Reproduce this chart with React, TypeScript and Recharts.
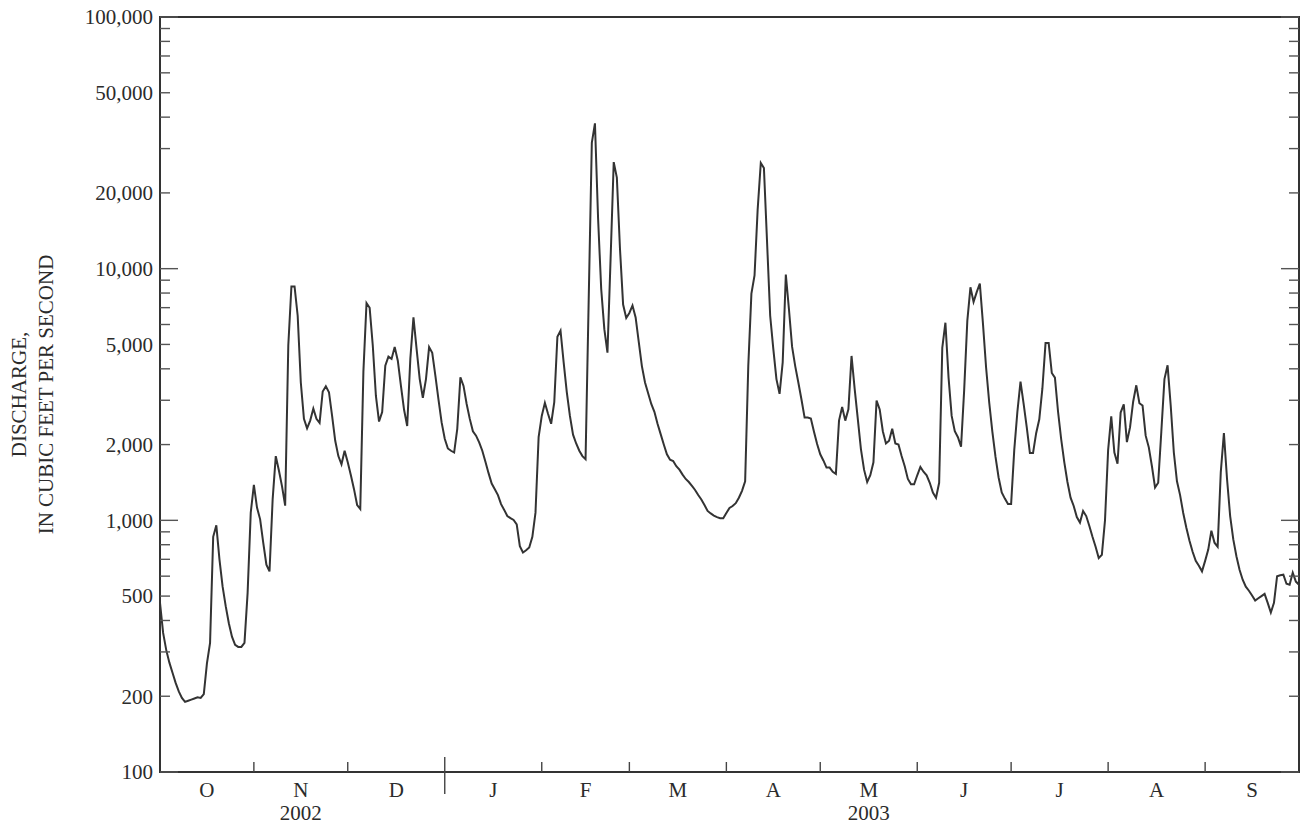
import React from 'react';
import { LineChart, Line, XAxis, YAxis, ReferenceArea } from 'recharts';

// Daily mean discharge, water year Oct 2002 - Sep 2003 (cubic feet per second)
const oct = [470, 357, 305, 272, 248, 226, 209, 197, 190, 192, 194, 196, 198, 197, 204, 270, 326, 860, 955, 700, 546, 456, 390, 345, 320, 314, 314, 326, 515, 1073, 1382];
const nov = [1124, 1009, 814, 666, 627, 1212, 1800, 1577, 1365, 1144, 4950, 8500, 8500, 6500, 3530, 2530, 2320, 2490, 2780, 2530, 2440, 3250, 3410, 3230, 2600, 2070, 1800, 1670, 1890, 1700];
const dec = [1510, 1330, 1150, 1110, 3890, 7300, 6990, 4950, 3120, 2470, 2690, 4120, 4470, 4380, 4880, 4310, 3420, 2750, 2370, 4380, 6400, 4800, 3640, 3070, 3640, 4880, 4630, 3760, 3020, 2450, 2110];
const jan = [1930, 1890, 1860, 2310, 3700, 3420, 2900, 2530, 2260, 2170, 2040, 1890, 1710, 1540, 1400, 1330, 1260, 1160, 1100, 1040, 1020, 1003, 964, 790, 745, 760, 780, 860, 1073, 2140, 2600];
const feb = [2930, 2650, 2420, 2950, 5360, 5670, 4240, 3230, 2600, 2190, 2020, 1890, 1800, 1750, 7500, 31600, 37800, 15850, 8300, 5750, 4640, 10960, 26500, 23000, 12000, 7200, 6370, 6670];
const mar = [7140, 6400, 5120, 4100, 3530, 3200, 2900, 2700, 2420, 2200, 2000, 1830, 1740, 1720, 1640, 1590, 1520, 1460, 1420, 1370, 1320, 1260, 1210, 1150, 1090, 1065, 1045, 1030, 1020, 1020, 1070];
const apr = [1120, 1140, 1170, 1230, 1310, 1430, 4100, 7960, 9400, 17200, 26300, 25100, 12800, 6500, 4800, 3640, 3180, 4240, 9470, 6900, 4900, 4100, 3530, 3020, 2560, 2560, 2540, 2250, 2010, 1830];
const may = [1730, 1620, 1620, 1560, 1530, 2490, 2820, 2490, 2760, 4500, 3330, 2530, 1920, 1590, 1420, 1510, 1700, 2990, 2760, 2260, 2020, 2070, 2310, 2020, 2000, 1800, 1640, 1460, 1390, 1390, 1510];
const jun = [1630, 1560, 1510, 1410, 1290, 1230, 1410, 4850, 6100, 3700, 2600, 2260, 2140, 1960, 3300, 6200, 8430, 7380, 8070, 8730, 6050, 4050, 2940, 2250, 1790, 1480, 1290, 1220, 1160, 1160];
const jul = [1900, 2700, 3560, 2900, 2340, 1850, 1850, 2220, 2520, 3350, 5060, 5060, 3850, 3690, 2700, 2100, 1700, 1420, 1230, 1140, 1030, 980, 1090, 1040, 950, 860, 785, 708, 730, 1000, 1900];
const aug = [2590, 1860, 1680, 2680, 2890, 2045, 2340, 2960, 3440, 2920, 2860, 2170, 1950, 1640, 1350, 1410, 2250, 3640, 4130, 2860, 1860, 1430, 1260, 1070, 935, 830, 750, 690, 660, 627, 690];
const sep = [765, 910, 815, 785, 1550, 2220, 1460, 1040, 840, 720, 636, 581, 545, 525, 503, 480, 490, 500, 510, 470, 430, 470, 600, 605, 608, 560, 555, 620, 571, 555];

const monthLabels = ['O', 'N', 'D', 'J', 'F', 'M', 'A', 'M', 'J', 'J', 'A', 'S'];
const yearLabels: Record<number, string> = { 1: '2002', 7: '2003' };
const yTitle = ['DISCHARGE,', 'IN CUBIC FEET PER SECOND'];

const yTicks = [
  100, 200, 300, 400, 500, 600, 700, 800, 900,
  1000, 2000, 3000, 4000, 5000, 6000, 7000, 8000, 9000,
  10000, 20000, 30000, 40000, 50000, 60000, 70000, 80000, 90000,
  100000,
];
const yTickLabels: Record<number, string> = {
  100: '100', 200: '200', 500: '500',
  1000: '1,000', 2000: '2,000', 5000: '5,000',
  10000: '10,000', 20000: '20,000', 50000: '50,000',
  100000: '100,000',
};

const months = [oct, nov, dec, jan, feb, mar, apr, may, jun, jul, aug, sep];
const data = months.flat().map((q, day) => ({ day, q }));
const lastDay = data.length - 1;

// month boundary ticks sit on the last day of the previous month
const starts: number[] = [];
months.reduce((acc, m) => { starts.push(acc); return acc + m.length; }, 0);
const boundaries = starts.slice(1).map((s) => s - 1);
const edges = [0, ...boundaries, lastDay];
const mids = monthLabels.map((_, i) => (edges[i] + edges[i + 1]) / 2);

const W = 1301;
const H = 825;
const margin = { top: 17, right: 2, bottom: 0, left: 0 };
const AXIS_H = 53;
const plotRight = W - margin.right;
const plotMidY = margin.top + (H - margin.top - AXIS_H) / 2;

const font = "'Liberation Serif', 'DejaVu Serif', 'Times New Roman', serif";
const ink = '#2b2b2b';
const textStyle = { fontFamily: font, fontSize: 21, fill: ink };

const FlowTick = ({ x, y, payload }: any) => {
  const v = payload.value;
  const decade = v === 100 || v === 1000 || v === 10000 || v === 100000;
  const len = decade ? 18 : 10;
  const label = yTickLabels[v];
  return (
    <g>
      <line x1={x} x2={x + len} y1={y} y2={y} stroke="#555" strokeWidth={1.4} />
      <line x1={plotRight - len} x2={plotRight} y1={y} y2={y} stroke="#555" strokeWidth={1.4} />
      {label && (
        <text x={x - 7} y={y} dy="0.35em" textAnchor="end" style={textStyle}>
          {label}
        </text>
      )}
    </g>
  );
};

const MonthTick = ({ x, y, payload }: any) => {
  const v = payload.value;
  const b = boundaries.indexOf(v);
  if (b >= 0) {
    const newYear = b === 2;
    return (
      <line x1={x} x2={x} y1={y - (newYear ? 15 : 10)} y2={y + (newYear ? 22 : 0)} stroke="#444" strokeWidth={1.4} />
    );
  }
  const m = mids.indexOf(v);
  if (m < 0) return null;
  return (
    <g>
      <text x={x} y={y + 25} textAnchor="middle" style={textStyle}>{monthLabels[m]}</text>
      {yearLabels[m] && (
        <text x={x} y={y + 48} textAnchor="middle" style={textStyle}>{yearLabels[m]}</text>
      )}
    </g>
  );
};

export default function App() {
  return (
    <div style={{ position: 'absolute', top: 0, left: 0, width: W, height: H, background: '#fff' }}>
      <LineChart width={W} height={H} data={data} margin={margin}>
        <XAxis
          type="number"
          dataKey="day"
          domain={[0, lastDay]}
          ticks={[...boundaries, ...mids]}
          interval={0}
          axisLine={false}
          tickLine={false}
          tickSize={0}
          tickMargin={0}
          height={AXIS_H}
          tick={<MonthTick />}
        />
        <YAxis
          type="number"
          scale="log"
          domain={[100, 100000]}
          ticks={yTicks}
          interval={0}
          allowDataOverflow
          axisLine={false}
          tickLine={false}
          tickSize={0}
          tickMargin={0}
          width={160}
          tick={<FlowTick />}
        />
        <Line
          type="linear"
          dataKey="q"
          stroke="#333"
          strokeWidth={2}
          dot={false}
          activeDot={false}
          isAnimationActive={false}
        />
        <ReferenceArea x1={0} x2={lastDay} y1={100} y2={100000} fill="none" stroke="#333" strokeWidth={2} />
      </LineChart>
      {/* y-axis title, two rotated lines */}
      <svg width={70} height={H} style={{ position: 'absolute', top: 0, left: 0, pointerEvents: 'none' }}>
        {yTitle.map((line, i) => {
          const x = 26 + i * 27;
          return (
            <text
              key={line}
              x={x}
              y={plotMidY}
              textAnchor="middle"
              transform={`rotate(-90 ${x} ${plotMidY})`}
              fontFamily={font}
              fontSize={21}
              fill={ink}
            >
              {line}
            </text>
          );
        })}
      </svg>
    </div>
  );
}
